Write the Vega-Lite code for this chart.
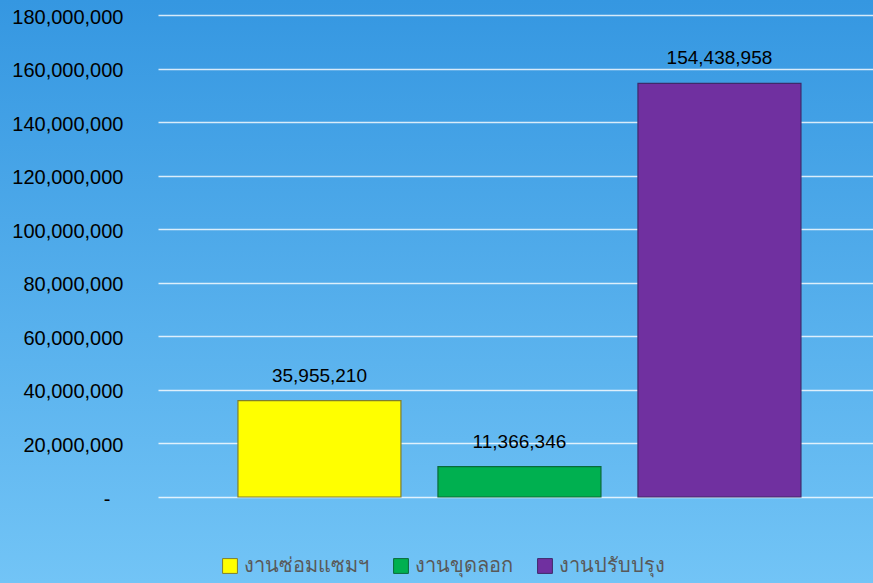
{
  "$schema": "https://vega.github.io/schema/vega-lite/v6.json",
  "width": 873,
  "height": 583,
  "autosize": {"type": "none"},
  "padding": 0,
  "background": "#52aeea",
  "data": {
    "values": [
      {"category": "งานซ่อมแซมฯ", "value": 35955210},
      {"category": "งานขุดลอก", "value": 11366346},
      {"category": "งานปรับปรุง", "value": 154438958}
    ]
  },
  "encoding": {
    "x": {
      "field": "category",
      "type": "nominal",
      "sort": null,
      "axis": null,
      "scale": {"range": [158, 873], "paddingInner": 0.185, "paddingOuter": 0.38, "align": 0.526}
    },
    "y": {
      "field": "value",
      "type": "quantitative",
      "scale": {"domain": [0, 180000000], "range": [497, 15], "nice": false, "zero": true},
      "axis": {
        "title": null,
        "values": [0, 20000000, 40000000, 60000000, 80000000, 100000000, 120000000, 140000000, 160000000, 180000000],
        "labelExpr": "datum.value == 0 ? '-' : format(datum.value, ',')",
        "offset": -158,
        "labelPadding": {"condition": {"test": "datum.value === 0", "value": 48}, "value": 35},
        "labelOffset": 2,
        "domain": false,
        "ticks": false,
        "tickSize": 0,
        "labelFont": "Liberation Sans",
        "labelFontSize": 20,
        "labelColor": "#000000",
        "grid": true,
        "gridColor": "#ffffff",
        "gridOpacity": 0.8,
        "gridWidth": 1.5
      }
    }
  },
  "layer": [
    {
      "mark": {"type": "bar", "strokeWidth": 1.2},
      "encoding": {
        "color": {
          "field": "category",
          "type": "nominal",
          "sort": null,
          "scale": {"domain": ["งานซ่อมแซมฯ", "งานขุดลอก", "งานปรับปรุง"], "range": ["#ffff00", "#00b050", "#7030a0"]},
          "legend": {
            "title": null,
            "orient": "none",
            "legendX": 220,
            "legendY": 556,
            "direction": "horizontal",
            "symbolType": "square",
            "symbolSize": 220,
            "symbolStrokeWidth": 1,
            "labelFont": "Liberation Sans",
            "labelFontSize": 20,
            "labelColor": "#595959",
            "labelOffset": 4,
            "columnPadding": 22
          }
        },
        "stroke": {
          "field": "category",
          "type": "nominal",
          "sort": null,
          "scale": {"domain": ["งานซ่อมแซมฯ", "งานขุดลอก", "งานปรับปรุง"], "range": ["#7f7f30", "#0a6a3a", "#3f2a6a"]},
          "legend": {
            "title": null,
            "orient": "none",
            "legendX": 220,
            "legendY": 556,
            "direction": "horizontal",
            "symbolType": "square",
            "symbolSize": 220,
            "symbolStrokeWidth": 1,
            "labelFont": "Liberation Sans",
            "labelFontSize": 20,
            "labelColor": "#595959",
            "labelOffset": 4,
            "columnPadding": 22
          }
        }
      }
    },
    {
      "mark": {"type": "text", "baseline": "alphabetic", "align": "center", "dy": -19, "font": "Liberation Sans", "fontSize": 19, "color": "#000000"},
      "encoding": {
        "text": {"field": "value", "type": "quantitative", "format": ","}
      }
    }
  ],
  "config": {
    "view": {
      "stroke": null,
      "fill": {
        "gradient": "linear",
        "x1": 0, "y1": 0, "x2": 0, "y2": 1,
        "stops": [
          {"offset": 0, "color": "#3597e1"},
          {"offset": 1, "color": "#72c4f6"}
        ]
      }
    }
  }
}
